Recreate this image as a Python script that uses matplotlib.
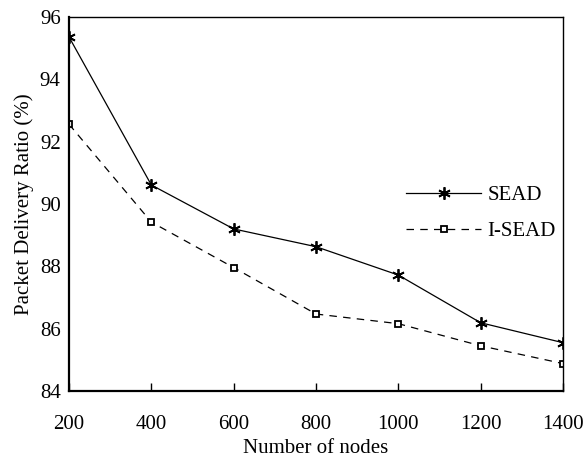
import matplotlib.pyplot as plt

# values
nodes = [200, 400, 600, 800, 1000, 1200, 1400]
sead = [95.36, 90.61, 89.2, 88.63, 87.72, 86.19, 85.55]
isead = [92.56, 89.42, 87.96, 86.47, 86.16, 85.45, 84.88]

plt.rcParams['font.family'] = ['Liberation Serif', 'DejaVu Serif']

fig = plt.figure(figsize=(5.85, 4.61), dpi=100)
ax = fig.add_axes([69 / 585, 1 - 391 / 461, (563 - 69) / 585, (391 - 17) / 461])

ax.plot(nodes, sead, color='black', lw=0.9, marker=(6, 2, 0), ms=9,
        mew=1.3, label='SEAD')
ax.plot(nodes, isead, color='black', lw=0.9, ls=(0, (6, 5)), marker='s',
        ms=5, mfc='white', mew=1.3, label='I-SEAD')

ax.set_xlim(200, 1400)
ax.set_ylim(84, 96)
ax.set_xticks(nodes)
ax.set_yticks([84, 86, 88, 90, 92, 94, 96])
ax.tick_params(axis='x', direction='in', length=6, width=1, labelsize=15, pad=17)
ax.tick_params(axis='y', length=0, labelsize=15, pad=6)
for s in ax.spines.values():
    s.set_linewidth(1.0)
ax.spines['bottom'].set_linewidth(1.6)
ax.spines['left'].set_linewidth(1.6)

ax.set_xlabel('Number of nodes', fontsize=15, labelpad=4)
ax.set_ylabel('Packet Delivery Ratio (%)', fontsize=15, labelpad=4)

ax.legend(loc='upper left', bbox_to_anchor=(0.645, 0.6), frameon=False,
          fontsize=15, handlelength=3.6, handletextpad=0.3, labelspacing=0.8)

fig.savefig('out.png', dpi=100)
